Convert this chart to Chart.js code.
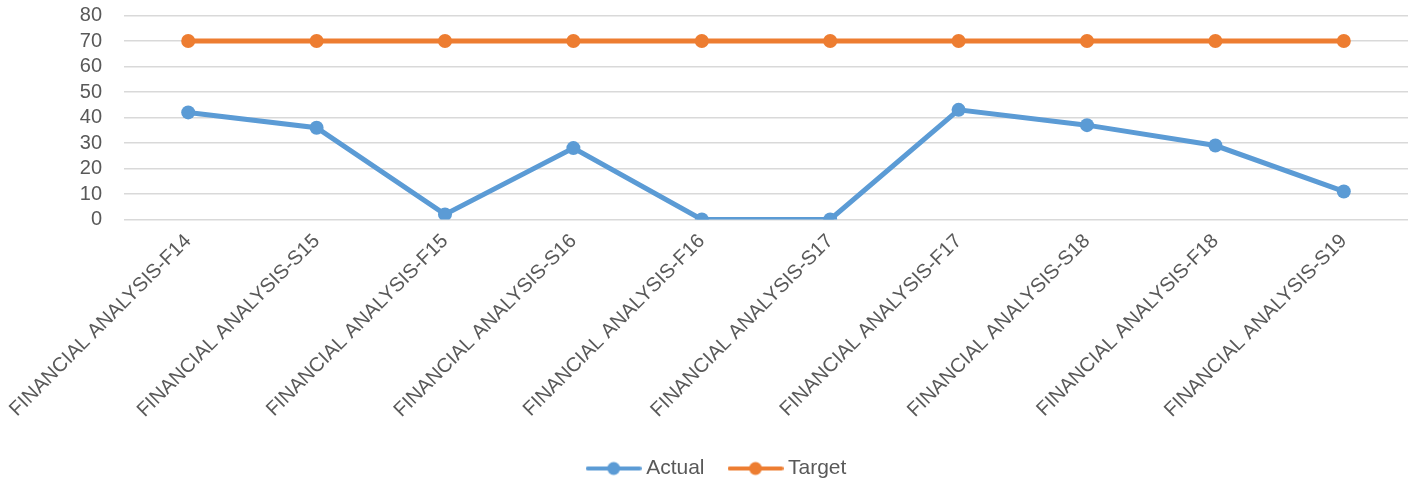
<!DOCTYPE html>
<html>
<head>
<meta charset="utf-8">
<script src="https://cdn.jsdelivr.net/npm/chart.js@4.4.1/dist/chart.umd.min.js"></script>
<style>
  html, body { margin: 0; padding: 0; background: #ffffff; }
  #wrap { width: 1410px; height: 484px; position: relative; }
</style>
</head>
<body>
<div id="wrap"><canvas id="c" width="1410" height="484"></canvas></div>
<script>
const categories = [
  "FINANCIAL ANALYSIS-F14", "FINANCIAL ANALYSIS-S15", "FINANCIAL ANALYSIS-F15",
  "FINANCIAL ANALYSIS-S16", "FINANCIAL ANALYSIS-F16", "FINANCIAL ANALYSIS-S17",
  "FINANCIAL ANALYSIS-F17", "FINANCIAL ANALYSIS-S18", "FINANCIAL ANALYSIS-F18",
  "FINANCIAL ANALYSIS-S19"
];
const actualValues = [42, 36, 2, 28, 0, 0, 43, 37, 29, 11];
const targetValues = [70, 70, 70, 70, 70, 70, 70, 70, 70, 70];
const yTicks = [0, 10, 20, 30, 40, 50, 60, 70, 80];

const BLUE = "#5B9BD5";
const ORANGE = "#ED7D31";
const TEXT = "#595959";
const FONT = "'Liberation Sans', Arial, sans-serif";

function legendIcon(color) {
  const cv = document.createElement("canvas");
  cv.width = 56; cv.height = 16;
  const g = cv.getContext("2d");
  g.strokeStyle = color; g.lineWidth = 4; g.lineCap = "round";
  g.beginPath(); g.moveTo(2, 8); g.lineTo(54, 8); g.stroke();
  g.fillStyle = color;
  g.beginPath(); g.arc(28, 8, 6.5, 0, Math.PI * 2); g.fill();
  return cv;
}

new Chart(document.getElementById("c"), {
  type: "line",
  data: {
    labels: categories,
    datasets: [
      {
        label: "Actual", data: actualValues,
        borderColor: BLUE, backgroundColor: BLUE,
        borderWidth: 5, pointRadius: 7, pointHoverRadius: 7,
        pointBackgroundColor: BLUE, pointBorderWidth: 0,
        tension: 0, pointStyle: "circle"
      },
      {
        label: "Target", data: targetValues,
        borderColor: ORANGE, backgroundColor: ORANGE,
        borderWidth: 5, pointRadius: 7, pointHoverRadius: 7,
        pointBackgroundColor: ORANGE, pointBorderWidth: 0,
        tension: 0, pointStyle: "circle"
      }
    ]
  },
  options: {
    responsive: false,
    animation: false,
    layout: { autoPadding: false, padding: { top: 0, right: 2, left: 30, bottom: -5 } },
    plugins: {
      tooltip: { enabled: false },
      legend: {
        position: "bottom",
        labels: {
          usePointStyle: true,
          pointStyleWidth: 44,
          boxHeight: 16,
          padding: 29,
          color: TEXT,
          font: { family: FONT, size: 21 },
          generateLabels: (chart) => chart.data.datasets.map((ds, i) => ({
            text: ds.label,
            pointStyle: legendIcon(ds.borderColor),
            fillStyle: ds.borderColor,
            strokeStyle: ds.borderColor,
            lineWidth: 0,
            fontColor: TEXT,
            hidden: false,
            datasetIndex: i
          }))
        }
      }
    },
    scales: {
      x: {
        offset: true,
        grid: { display: false },
        border: { display: false },
        afterFit: (axis) => { axis.height = 209.5; },
        ticks: {
          color: TEXT,
          font: { family: FONT, size: 20 },
          minRotation: 45, maxRotation: 45,
          autoSkip: false,
          padding: 2
        }
      },
      y: {
        min: 0, max: 80,
        afterBuildTicks: (axis) => { axis.ticks = yTicks.map(v => ({ value: v })); },
        afterFit: (axis) => { axis.width = 94; axis.paddingTop = 15.5; axis.paddingBottom = 0; },
        grid: { color: "#D9D9D9", lineWidth: 1.5, drawTicks: false },
        border: { display: false },
        ticks: {
          color: TEXT,
          font: { family: FONT, size: 20 },
          padding: 22,
          autoSkip: false
        }
      }
    }
  }
});
</script>
</body>
</html>
